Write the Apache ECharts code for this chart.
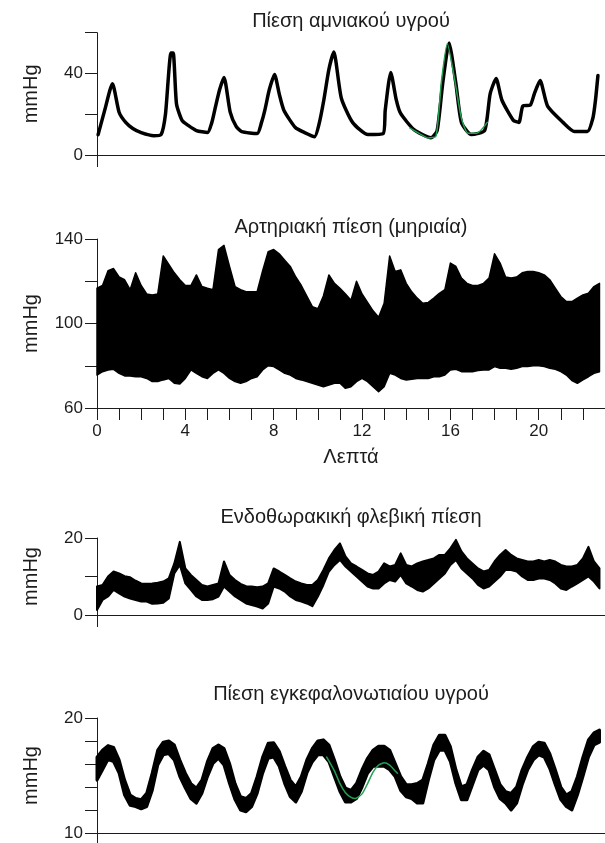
<!DOCTYPE html>
<html>
<head>
<meta charset="utf-8">
<script src="https://cdn.jsdelivr.net/npm/echarts@6/dist/echarts.min.js"></script>
<style>
html, body { margin: 0; padding: 0; background: #fff; }
#chart { width: 605px; height: 843px; }
</style>
</head>
<body>
<div id="chart"></div>
<script>
// amniotic fluid pressure (mmHg) vs minutes
const amnioT = [0.05, 0.35, 0.7, 1.0, 1.3, 1.62, 2.0, 2.57, 2.9, 3.1, 3.35, 3.45, 3.6, 3.85, 4.13, 4.5, 5.0, 5.2, 5.35, 5.55, 5.75, 6.03, 6.3, 6.55, 7.25, 7.45, 7.6, 7.8, 8.04, 8.25, 8.46, 8.98, 9.4, 9.85, 10.05, 10.27, 10.5, 10.72, 11.06, 11.57, 12.27, 12.96, 13.05, 13.3, 13.55, 13.74, 14.35, 15.12, 15.4, 15.65, 15.94, 16.25, 16.5, 16.95, 17.55, 17.8, 18.07, 18.33, 18.85, 19.1, 19.28, 19.62, 19.8, 20.06, 20.4, 21.1, 21.62, 22.2, 22.45, 22.57, 22.68]
const amnioV = [10, 22, 35, 21, 16, 13, 11, 9.5, 10, 20, 50, 50, 25, 17, 14.5, 12, 11, 16, 23, 32, 38, 21, 14, 11.5, 10.5, 16, 22, 32, 39.5, 30, 22, 13.5, 11, 9, 15, 27, 42, 50.5, 28, 16, 10, 10.5, 22, 40.5, 27, 20.5, 12.5, 8.5, 12, 35, 55, 35, 16, 10, 12, 30, 37.5, 27, 17, 16, 24, 24.5, 30, 36.5, 24, 16, 11.5, 11.5, 18, 27, 39]
// fitted curve (green) over one contraction
const amnioFitT = [14.17, 14.6, 15.0, 15.35, 15.6, 15.86, 16.2, 16.5, 16.8, 17.2, 17.67]
const amnioFitV = [13.2, 10.5, 8.3, 9.3, 36.6, 54.6, 36.6, 18, 10.7, 10.7, 16]

// common time base for the banded traces
const minutes = [0, 0.25, 0.5, 0.75, 1, 1.25, 1.5, 1.75, 2, 2.25, 2.5, 2.75, 3, 3.25, 3.5, 3.75, 4, 4.25, 4.5, 4.75, 5, 5.25, 5.5, 5.75, 6, 6.25, 6.5, 6.75, 7, 7.25, 7.5, 7.75, 8, 8.25, 8.5, 8.75, 9, 9.25, 9.5, 9.75, 10, 10.25, 10.5, 10.75, 11, 11.25, 11.5, 11.75, 12, 12.25, 12.5, 12.75, 13, 13.25, 13.5, 13.75, 14, 14.25, 14.5, 14.75, 15, 15.25, 15.5, 15.75, 16, 16.25, 16.5, 16.75, 17, 17.25, 17.5, 17.75, 18, 18.25, 18.5, 18.75, 19, 19.25, 19.5, 19.75, 20, 20.25, 20.5, 20.75, 21, 21.25, 21.5, 21.75, 22, 22.25, 22.5, 22.75]

// arterial (femoral) pressure envelope
const arterialHigh = [116.7, 118, 125, 126, 122, 120.7, 116, 124, 118, 114, 113.5, 114, 132, 128, 124, 120.7, 118, 118, 123, 117.5, 116.7, 116, 135, 137, 127, 117.5, 116, 115, 115, 115, 125, 134, 135, 133, 130, 127, 122, 118, 113, 108, 107, 113, 123, 119, 116.7, 114, 111, 120, 114, 110, 106, 103, 109.6, 132, 124.6, 125.4, 119, 115, 112, 109.6, 110, 112, 114.3, 116, 128.6, 127, 121.5, 119, 118, 118, 119, 121.5, 133, 128.6, 122, 121.5, 122, 124, 124.6, 124.6, 124, 123, 120.7, 116.7, 112.8, 110.4, 110.4, 112, 113.5, 114.3, 117.5, 119]
const arterialLow = [75.6, 77.2, 78, 78.3, 76.4, 75.2, 75.2, 74.8, 74.8, 74, 72.5, 72.5, 73.3, 74, 71.7, 71.4, 74, 78, 76.4, 74.8, 74, 76.4, 78, 76.4, 74, 72.5, 71.7, 72.5, 74, 74.8, 78, 80, 79.6, 78, 76.4, 75.6, 74, 73.3, 72.5, 71.7, 70.9, 70.1, 70.9, 71.7, 71.7, 69.3, 70.1, 72.5, 74, 72.5, 70.1, 67.7, 70.1, 76.4, 75.6, 74, 73.3, 73.6, 74, 74, 74, 74.8, 74.8, 75.6, 78, 78.3, 77.2, 77.2, 77.2, 77.7, 78, 78, 79.6, 78.8, 78.8, 78.3, 78.8, 79.6, 79.6, 80, 80, 79.6, 78.8, 78.3, 77.2, 75.6, 73, 71.7, 73.3, 74.8, 76.4, 77.2]

// intrathoracic venous pressure envelope
const venousHigh = [7.4, 7.8, 10, 11.3, 10.8, 10.1, 9.8, 8.9, 8.2, 8.1, 8.2, 8.4, 8.7, 9.5, 13.4, 19, 12.1, 10.4, 9.1, 7.8, 7.4, 7.8, 8.2, 13.9, 10.4, 9.1, 8.1, 7.5, 7.4, 7.2, 7.4, 8.2, 12.1, 11.3, 10.4, 9.5, 8.7, 8.2, 7.8, 7.8, 9.1, 11.7, 14.7, 16.9, 18.6, 15.2, 13.4, 12.6, 11.7, 10.8, 10.4, 11.3, 13.4, 12.6, 13, 16, 13, 12.6, 13.4, 13.9, 14.3, 14.7, 15.6, 15.6, 17.3, 19.5, 16.5, 14.7, 13.4, 12.1, 11.3, 11.7, 13.9, 15.6, 16.9, 15.6, 14.7, 14.3, 13.9, 13.9, 14.3, 13.9, 14.3, 13.9, 13, 12.6, 12.6, 13, 14.7, 17.7, 13.9, 12.1]
const venousLow = [1.3, 3.9, 4.8, 6.5, 5.6, 4.8, 4.3, 3.9, 3.5, 3.5, 2.9, 3, 3.2, 4.3, 10.8, 13, 8.2, 6.5, 4.8, 3.9, 3.9, 4.1, 4.8, 7.4, 6.1, 4.8, 3.9, 3, 2.6, 2.2, 1.7, 3, 7.4, 6.9, 6.1, 4.8, 3.9, 3.5, 3, 2.3, 4.8, 7.8, 11.3, 13, 14.3, 12.6, 11.3, 10, 8.7, 7.4, 6.9, 6.9, 8.2, 9.1, 8.7, 10.4, 8.2, 7.4, 6.5, 6.1, 6.9, 8.2, 9.5, 10.8, 13, 14.3, 12.1, 10.8, 9.5, 7.8, 6.9, 7.4, 8.7, 10, 11.7, 11.7, 11.3, 10, 9.1, 9.1, 9.5, 9.5, 9.1, 8.2, 6.9, 6.5, 7.4, 8.2, 9.1, 10, 8.7, 6.9]

// cerebrospinal fluid pressure envelope
const csfHigh = [16.6, 17.2, 17.6, 17.45, 16.35, 14.6, 13.3, 13, 12.9, 13.45, 15.2, 17.2, 17.9, 18, 17.65, 16.35, 15.2, 14.3, 13.9, 14.6, 16.2, 17.35, 17.65, 17.35, 16.05, 14.3, 13.15, 13, 13.45, 14.9, 16.6, 17.8, 17.85, 17.1, 15.8, 14.6, 14, 14.9, 16.35, 17.35, 18, 18.1, 17.65, 16.35, 14.9, 13.9, 13.7, 14.3, 15.5, 16.5, 17.2, 17.55, 17.55, 17.2, 16.05, 14.9, 14.2, 14.2, 14.3, 14.6, 16.05, 17.65, 18.5, 18.5, 17.5, 15.5, 14, 14.2, 15.5, 16.6, 17.1, 16.8, 15.5, 14.2, 13.6, 13.45, 14, 15.5, 16.6, 17.5, 17.9, 17.8, 16.9, 15.5, 14, 13.3, 13.6, 14.9, 16.6, 18.1, 18.7, 18.95]
const csfLow = [14.6, 15.5, 16.4, 16.2, 15.2, 13.3, 12.4, 12.3, 12.1, 12.3, 13.7, 15.9, 16.8, 16.9, 16.35, 14.9, 13.9, 13, 12.6, 13.45, 14.9, 16.05, 16.5, 15.9, 14.3, 12.9, 12, 11.85, 12.3, 13.45, 15.2, 16.5, 16.6, 15.8, 14.3, 13.15, 12.7, 13.6, 15.2, 16.2, 16.8, 16.8, 16.2, 14.9, 13.6, 12.7, 12.7, 13, 14, 15.2, 15.8, 15.8, 15.8, 15.5, 14.9, 13.7, 13.15, 13, 12.6, 12.6, 14.6, 16.35, 17.2, 17.2, 16.2, 14.3, 12.9, 12.9, 14.2, 15.5, 15.9, 15.5, 14, 13, 12.6, 12, 12.6, 14.2, 15.5, 16.35, 16.8, 16.6, 15.6, 14.2, 12.9, 12.3, 12, 13.3, 14.9, 16.6, 17.65, 17.9]
const csfFitT = [10.4, 10.75, 11.0, 11.25, 11.5, 11.7, 12.0, 12.25, 12.5, 12.75, 13.0, 13.25, 13.5, 13.6]
const csfFitV = [16.6, 15.4, 14.3, 13.5, 13.1, 13.0, 13.4, 14.3, 15.3, 15.9, 16.1, 15.9, 15.4, 15.2]

const minuteTicks = [0, 1, 2, 3, 4, 5, 6, 7, 8, 9, 10, 11, 12, 13, 14, 15, 16, 17, 18, 19, 20, 21, 22]
const minuteLabels = [0, 4, 8, 12, 16, 20]

const titles = ['Πίεση αμνιακού υγρού', 'Αρτηριακή πίεση (μηριαία)', 'Ενδοθωρακική φλεβική πίεση', 'Πίεση εγκεφαλονωτιαίου υγρού']

const FONT = '"Liberation Sans", Arial, sans-serif'
const INK = '#1c1c1c'
const FIT = '#22a052'

const grids = [
  { left: 97, width: 513, top: 32.7, height: 122.3 },
  { left: 97, width: 513, top: 239, height: 169 },
  { left: 97, width: 513, top: 538, height: 77 },
  { left: 97, width: 513, top: 718, height: 115 },
]
const titleTops = [11, 217, 507, 684]

function xAxisFor(idx, full) {
  return {
    type: 'value',
    gridIndex: idx,
    min: 0,
    max: 23,
    axisLine: { show: true, onZero: false, lineStyle: { color: INK, width: 1 } },
    axisTick: {
      show: true,
      inside: false,
      length: 12,
      customValues: full ? minuteTicks : [0],
      lineStyle: { color: INK, width: 1 },
    },
    axisLabel: {
      show: full,
      customValues: minuteLabels,
      margin: 15,
      fontSize: 17,
      color: INK,
      fontFamily: FONT,
    },
    splitLine: { show: false },
    name: full ? 'Λεπτά' : '',
    nameLocation: 'middle',
    nameGap: 39,
    nameTextStyle: { fontSize: 20, color: INK, fontFamily: FONT },
  }
}

function yAxisFor(idx, min, max, interval, labeled) {
  return {
    type: 'value',
    gridIndex: idx,
    min,
    max,
    interval,
    axisLine: { show: true, lineStyle: { color: INK, width: 1 } },
    axisTick: { show: true, length: 12, lineStyle: { color: INK, width: 1 } },
    axisLabel: {
      margin: 14,
      fontSize: 17,
      color: INK,
      fontFamily: FONT,
      formatter: v => (labeled.includes(v) ? String(v) : ''),
    },
    splitLine: { show: false },
    name: 'mmHg',
    nameLocation: 'middle',
    nameRotate: 90,
    nameGap: 56,
    nameTextStyle: { fontSize: 20, color: INK, fontFamily: FONT },
  }
}

function pairs(xs, ys) {
  return xs.map((x, i) => [x, ys[i]])
}

// filled band between a lower and an upper envelope, drawn through the axes
function bandSeries(idx, lo, hi, edge) {
  const rows = minutes.map((t, i) => [t, lo[i], hi[i]])
  return {
    type: 'custom',
    xAxisIndex: idx,
    yAxisIndex: idx,
    encode: { x: 0, y: [1, 2] },
    data: rows,
    renderItem: (params, api) => {
      if (params.dataIndex !== 0) return null
      const pts = []
      rows.forEach(r => pts.push(api.coord([r[0], r[2]])))
      for (let i = rows.length - 1; i >= 0; i--) pts.push(api.coord([rows[i][0], rows[i][1]]))
      return {
        type: 'polygon',
        shape: { points: pts },
        style: { fill: '#000', stroke: '#000', lineWidth: edge, lineJoin: 'round' },
      }
    },
  }
}

function lineSeries(idx, xs, ys, color, width) {
  return {
    type: 'line',
    xAxisIndex: idx,
    yAxisIndex: idx,
    data: pairs(xs, ys),
    symbol: 'none',
    smooth: 0.2,
    lineStyle: { color, width, join: 'round', cap: 'round' },
    z: width > 2 ? 2 : 3,
  }
}

const chart = echarts.init(document.getElementById('chart'), null, { renderer: 'canvas' })

chart.setOption({
  animation: false,
  backgroundColor: '#fff',
  textStyle: { fontFamily: FONT },
  title: titles.map((text, i) => ({
    text,
    left: 351,
    top: titleTops[i],
    textAlign: 'center',
    padding: 0,
    textStyle: { fontSize: 20, fontWeight: 'normal', color: INK, fontFamily: FONT },
  })),
  grid: grids,
  xAxis: [xAxisFor(0, false), xAxisFor(1, true), xAxisFor(2, false), xAxisFor(3, false)],
  yAxis: [
    yAxisFor(0, 0, 60, 20, [0, 40]),
    yAxisFor(1, 60, 140, 20, [60, 100, 140]),
    yAxisFor(2, 0, 20, 10, [0, 20]),
    yAxisFor(3, 10, 20, 2, [10, 20]),
  ],
  series: [
    lineSeries(0, amnioT, amnioV, '#000', 3.5),
    lineSeries(0, amnioFitT, amnioFitV, FIT, 1.5),
    bandSeries(1, arterialLow, arterialHigh, 1.5),
    bandSeries(2, venousLow, venousHigh, 2),
    bandSeries(3, csfLow, csfHigh, 3),
    lineSeries(3, csfFitT, csfFitV, FIT, 1.5),
  ],
})
</script>
</body>
</html>
